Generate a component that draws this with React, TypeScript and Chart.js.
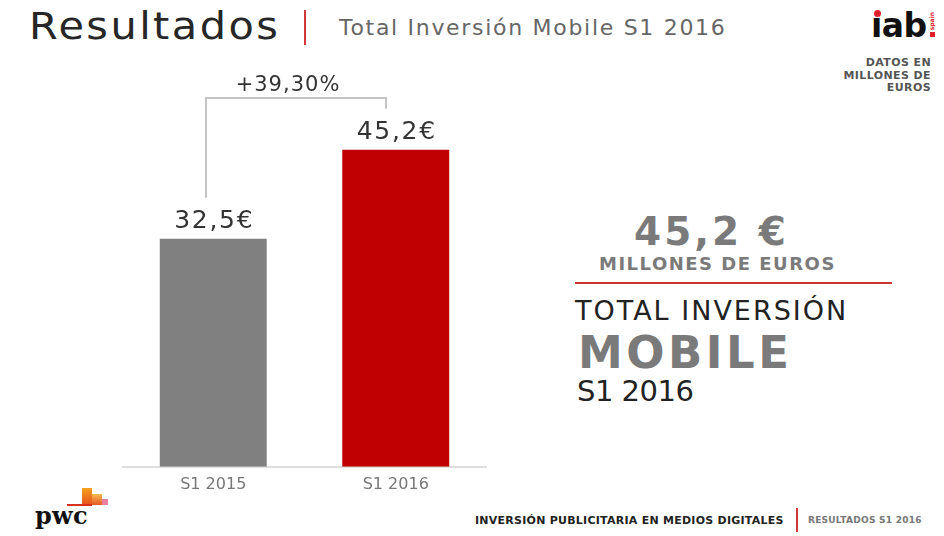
import React, { useEffect, useRef } from "react";
import { Chart, registerables } from "chart.js";
Chart.register(...registerables);

// ---- data ----
const categories = ["S1 2015", "S1 2016"];
const investment = [32.5, 45.2];
const barColors = ["#808080", "#c00000"];
const growthLabel = "+39,30%";
const yMax = 60;

const fmt = (v: number) => v.toFixed(1).replace(".", ",");

const SANS = "'DejaVu Sans', sans-serif";

const annotPlugin = {
  id: "annot",
  afterDatasetsDraw(chart: any) {
    const ctx = chart.ctx as CanvasRenderingContext2D;
    const bars = chart.getDatasetMeta(0).data as any[];
    ctx.save();
    ctx.font = "25px 'DejaVu Sans'";
    ctx.fillStyle = "#333333";
    ctx.textAlign = "center";
    ctx.textBaseline = "alphabetic";
    (ctx as any).letterSpacing = "1.7px";
    bars.forEach((b, i) => {
      ctx.fillText(fmt(investment[i]) + "€", b.x + 1, b.y - 11);
    });
    const a = bars[0];
    const c = bars[1];
    const xl = Math.round(a.x - 7);
    const xr = Math.round(c.x - 10);
    const yTop = Math.round(c.y - 52);
    ctx.strokeStyle = "#c4c4c4";
    ctx.lineWidth = 2;
    ctx.beginPath();
    ctx.moveTo(xl, a.y - 41);
    ctx.lineTo(xl, yTop);
    ctx.lineTo(xr, yTop);
    ctx.lineTo(xr, c.y - 41);
    ctx.stroke();
    ctx.font = "21px 'DejaVu Sans'";
    (ctx as any).letterSpacing = "1px";
    ctx.fillText(growthLabel, (xl + xr) / 2 - 8, yTop - 7);
    ctx.restore();
  },
};

type TxtProps = {
  x: number;
  base: number;
  size: number;
  weight?: number | string;
  color?: string;
  family?: string;
  ls?: number;
  sx?: number;
  align?: "left" | "right";
  children: React.ReactNode;
};

function Txt({ x, base, size, weight = 400, color = "#222", family = SANS, ls = 0, sx = 1, align = "left", children }: TxtProps) {
  const style: React.CSSProperties = {
    position: "absolute",
    top: base - 0.846 * size,
    fontSize: size,
    lineHeight: 1,
    fontWeight: weight as any,
    color,
    fontFamily: family,
    letterSpacing: ls,
    whiteSpace: "nowrap",
    transform: sx !== 1 ? `scaleX(${sx})` : undefined,
    transformOrigin: align === "left" ? "left top" : "right top",
  };
  if (align === "left") style.left = x;
  else style.right = 944 - x;
  return <div style={style}>{children}</div>;
}

function Box({ l, t, w, h, bg }: { l: number; t: number; w: number; h: number; bg: string }) {
  return <div style={{ position: "absolute", left: l, top: t, width: w, height: h, background: bg }} />;
}

export default function App() {
  const ref = useRef<HTMLCanvasElement | null>(null);
  useEffect(() => {
    if (!ref.current) return;
    const chart = new Chart(ref.current, {
      type: "bar",
      data: {
        labels: categories,
        datasets: [
          {
            data: investment,
            backgroundColor: barColors,
            borderWidth: 0,
            barPercentage: 0.586,
            categoryPercentage: 1,
          },
        ],
      },
      options: {
        responsive: false,
        animation: false,
        layout: { padding: { top: 46, left: 0, right: 0, bottom: 0 } },
        plugins: { legend: { display: false }, tooltip: { enabled: false } },
        scales: {
          x: {
            grid: { display: false, drawTicks: false },
            border: { display: true, color: "#dedede", width: 2 },
            ticks: { color: "#777777", font: { family: "DejaVu Sans", size: 16 }, padding: 8 },
          },
          y: { display: false, min: 0, max: yMax },
        },
      },
      plugins: [annotPlugin],
    } as any);
    return () => chart.destroy();
  }, []);

  return (
    <div style={{ position: "absolute", left: 0, top: 0, width: 944, height: 536, background: "#fff", overflow: "hidden" }}>
      {/* header */}
      <Txt x={29} base={39} size={37} color="#262626" ls={2.2} sx={1.12}>Resultados</Txt>
      <Box l={304} t={10} w={2} h={35} bg="#d0383a" />
      <Txt x={339} base={36} size={22} color="#666" ls={1.7}>Total Inversión Mobile S1 2016</Txt>

      {/* iab logo */}
      <Txt x={871} base={37} size={33} weight={700} color="#111" ls={-0.5}>ıab</Txt>
      <div style={{ position: "absolute", left: 874, top: 10, width: 7, height: 7, borderRadius: 4, background: "#e0202a" }} />
      <div
        style={{
          position: "absolute",
          left: 929,
          top: 12,
          fontSize: 6,
          lineHeight: 1,
          fontWeight: 700,
          color: "#e0202a",
          fontFamily: SANS,
          writingMode: "vertical-rl",
          transform: "rotate(180deg)",
        }}
      >
        spain
      </div>
      <Box l={930} t={32} w={5} h={5} bg="#e0202a" />

      <div
        style={{
          position: "absolute",
          right: 13,
          top: 57,
          fontSize: 11,
          lineHeight: "12.5px",
          fontWeight: 700,
          color: "#555",
          fontFamily: SANS,
          letterSpacing: 0.4,
          textAlign: "right",
        }}
      >
        DATOS EN
        <br />
        MILLONES DE
        <br />
        EUROS
      </div>

      {/* chart */}
      <canvas ref={ref} width={365} height={502} style={{ position: "absolute", left: 122, top: 0 }} />

      {/* right panel */}
      <Txt x={634} base={245} size={39} weight={700} color="#7a7a7a" ls={3}>{fmt(investment[1])} €</Txt>
      <Txt x={599} base={270} size={18} weight={700} color="#7a7a7a" ls={1.5}>MILLONES DE EUROS</Txt>
      <Box l={575} t={282} w={317} h={2} bg="#cc3333" />
      <Txt x={575} base={320} size={27} color="#222" ls={2}>TOTAL INVERSIÓN</Txt>
      <Txt x={578} base={368} size={45} weight={700} color="#7a7a7a" ls={3.5}>MOBILE</Txt>
      <Txt x={577} base={402} size={29} color="#222" ls={-0.5}>S1 2016</Txt>

      {/* pwc logo */}
      <div
        style={{
          position: "absolute",
          left: 82,
          top: 488,
          width: 10,
          height: 17,
          background: "linear-gradient(#f4a11f, #e6521c)",
        }}
      />
      <div
        style={{
          position: "absolute",
          left: 92,
          top: 494,
          width: 10,
          height: 11,
          background: "linear-gradient(#f6bd4c, #e6572a)",
        }}
      />
      <Box l={102} t={499} w={6} h={6} bg="#ea7fa0" />
      <Box l={67} t={504} w={25} h={2} bg="#d8321e" />
      <Txt x={35} base={524} size={24} weight={700} color="#111" family="'DejaVu Serif', serif" ls={0.3}>pwc</Txt>

      {/* footer */}
      <Txt x={475} base={524} size={11} weight={700} color="#222" ls={0.25}>INVERSIÓN PUBLICITARIA EN MEDIOS DIGITALES</Txt>
      <Box l={796} t={508} w={2} h={24} bg="#d0383a" />
      <Txt x={808} base={524} size={9} weight={700} color="#777" ls={0.25}>RESULTADOS S1 2016</Txt>
    </div>
  );
}
